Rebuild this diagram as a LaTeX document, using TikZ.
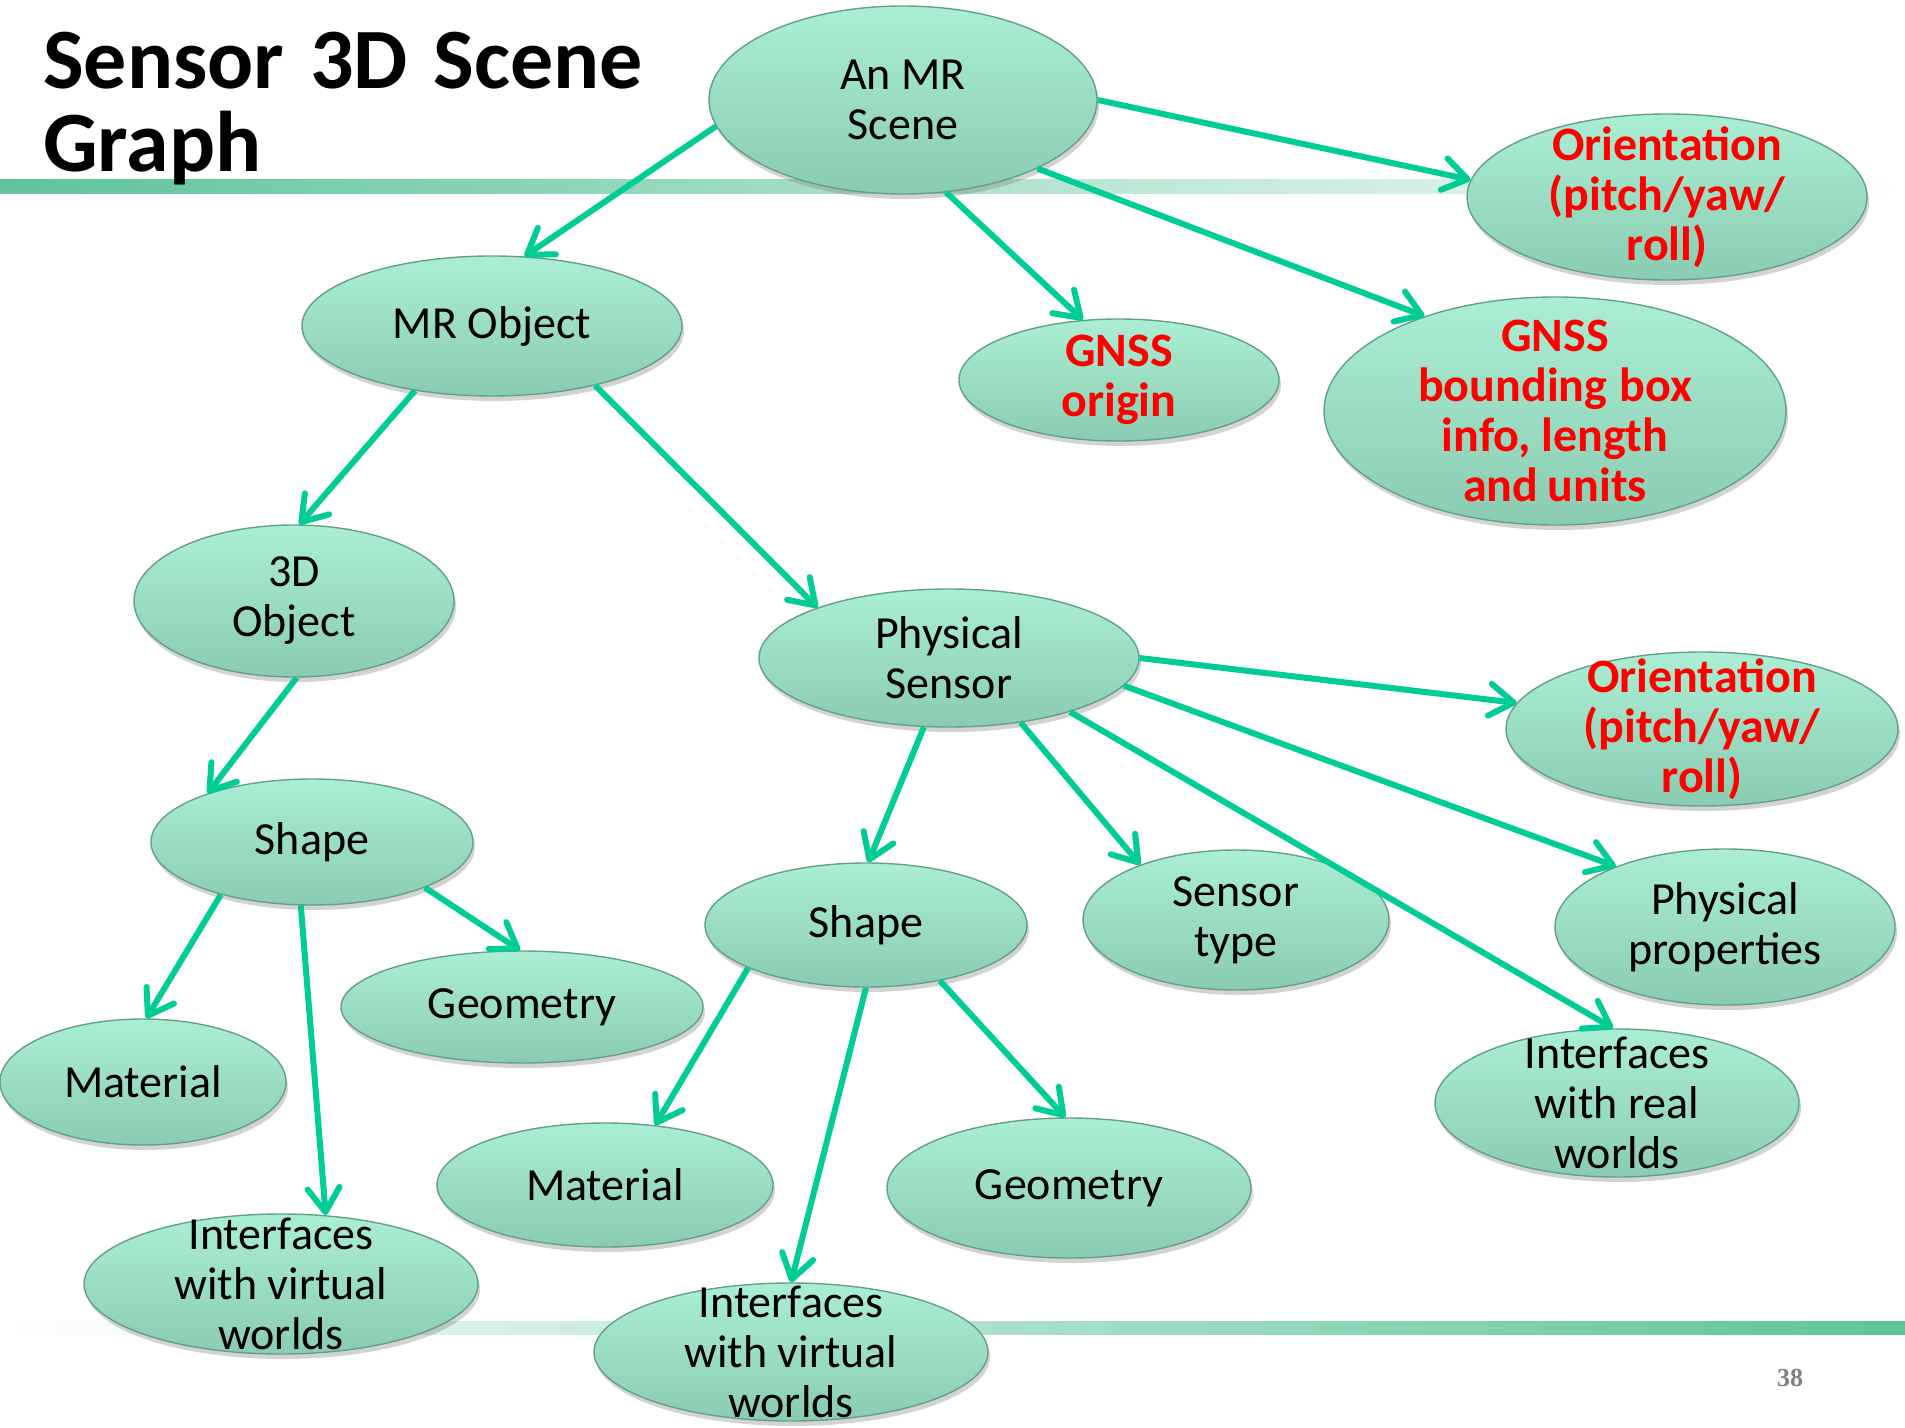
\documentclass[tikz,border=0pt]{standalone}
\usepackage{fontspec}
\setmainfont{Carlito}
\newfontfamily\numfont{Liberation Serif}
\usetikzlibrary{shapes.geometric,arrows.meta,shadows}
\definecolor{mintlt}{RGB}{170,238,212}
\definecolor{mintdk}{RGB}{138,204,178}
\definecolor{mintrim}{RGB}{100,160,136}
\definecolor{arrgreen}{RGB}{0,204,150}
\definecolor{bargreen}{RGB}{94,196,154}
\definecolor{hlred}{RGB}{255,0,0}
\tikzset{
	blob/.style={ellipse, top color=mintlt, bottom color=mintdk, draw=mintrim, line width=0.7pt, inner sep=0pt,
		drop shadow={shadow xshift=1pt, shadow yshift=-2.5pt, opacity=0.35}},
	txt/.style={align=center, font=\fontsize{23}{25}\selectfont},
	redtxt/.style={align=center, font=\fontsize{24}{25}\selectfont\bfseries, text=hlred},
	headline/.style={anchor=base west, font=\fontsize{43}{43}\selectfont\bfseries},
	link/.style={arrgreen, line width=3pt, -{Straight Barb[length=12pt,width=16pt,round]}}
}
\begin{document}
\begin{tikzpicture}[x=0.5pt,y=-0.5pt]
	\useasboundingbox (0,0) rectangle (1905,1428);
	
	\shade[left color=bargreen, right color=white] (0,180) rectangle (1905,194);
	\shade[left color=white, right color=bargreen] (0,1321) rectangle (1905,1334);
	
	\node[headline] (title1) at (36,89) {Sensor\hspace{0.3em}3D\hspace{0.3em}Scene};
	\node[headline] (title2) at (36,172) {Graph};
	\node[font=\numfont\bfseries\fontsize{13}{13}\selectfont, text=gray] (pnum) at (1790,1378) {38};
	
	\node[blob, minimum width=194pt, minimum height=94pt] (scene) at (903,100) {};
	\node[blob, minimum width=200pt, minimum height=83pt] (ori1) at (1667,197) {};
	\node[blob, minimum width=160pt, minimum height=61pt] (gorig) at (1119,380) {};
	\node[blob, minimum width=231pt, minimum height=114pt] (gbox) at (1555,411) {};
	\node[blob, minimum width=190pt, minimum height=70pt] (mrobj) at (492,326) {};
	\node[blob, minimum width=160pt, minimum height=76pt] (obj3d) at (294,601) {};
	\node[blob, minimum width=190pt, minimum height=69pt] (psens) at (949,658) {};
	\node[blob, minimum width=196pt, minimum height=77pt] (ori2) at (1702,729) {};
	\node[blob, minimum width=161pt, minimum height=63pt] (shapeL) at (312,842) {};
	\node[blob, minimum width=181pt, minimum height=56pt] (geomL) at (522,1007) {};
	\node[blob, minimum width=143pt, minimum height=63pt] (matL) at (143,1082) {};
	\node[blob, minimum width=197pt, minimum height=70pt] (ifvL) at (281,1284) {};
	\node[blob, minimum width=161pt, minimum height=62pt] (shapeM) at (866,925) {};
	\node[blob, minimum width=153pt, minimum height=70pt] (stype) at (1236,920) {};
	\node[blob, minimum width=170pt, minimum height=78pt] (pprop) at (1725,927) {};
	\node[blob, minimum width=182pt, minimum height=74pt] (ifr) at (1617,1103) {};
	\node[blob, minimum width=168pt, minimum height=62pt] (matM) at (605,1185) {};
	\node[blob, minimum width=182pt, minimum height=70pt] (geomM) at (1069,1188) {};
	\node[blob, minimum width=197pt, minimum height=69pt] (ifvM) at (791,1352) {};
	
	\node[txt] (sceneT) at (scene) {An MR\\Scene};
	\node[redtxt] (ori1T) at (ori1) {Orientation\\(pitch/yaw/\\roll)};
	\node[redtxt] (gorigT) at (gorig) {GNSS\\origin};
	\node[redtxt] (gboxT) at (gbox) {GNSS\\bounding\hspace{0.25em}box\\info, length\\and\hspace{0.2em}units};
	\node[txt] (mrobjT) at (mrobj) {MR Object};
	\node[txt] (obj3dT) at (obj3d) {3D\\Object};
	\node[txt] (psensT) at (psens) {Physical\\Sensor};
	\node[redtxt] (ori2T) at (ori2) {Orientation\\(pitch/yaw/\\roll)};
	\node[txt] (shapeLT) at (shapeL) {Shape};
	\node[txt] (geomLT) at (geomL) {Geometry};
	\node[txt] (matLT) at (matL) {Material};
	\node[txt] (ifvLT) at (ifvL) {Interfaces\\with virtual\\worlds};
	\node[txt] (shapeMT) at (shapeM) {Shape};
	\node[txt] (stypeT) at (stype) {Sensor\\type};
	\node[txt] (ppropT) at (pprop) {Physical\\properties};
	\node[txt] (ifrT) at (ifr) {Interfaces\\with real\\worlds};
	\node[txt] (matMT) at (matM) {Material};
	\node[txt] (geomMT) at (geomM) {Geometry};
	\node[txt] (ifvMT) at (ifvM) {Interfaces\\with virtual\\worlds};
	
	\draw[link] (scene.188) -- (mrobj.65);
	\draw[link] (scene.0) -- (ori1.175);
	\draw[link] (scene.-65) -- (gorig.121);
	\draw[link] (scene.-27) -- (gbox.144);
	\draw[link] (mrobj.-140) -- (obj3d.86);
	\draw[link] (mrobj.-30) -- (psens.159);
	\draw[link] (obj3d.-88) -- (shapeL.155);
	\draw[link] (shapeL.210) -- (matL.87);
	\draw[link] (shapeL.-22) -- (geomL.92);
	\draw[link] (shapeL.-100) -- (ifvL.57);
	\draw[link] (psens.0) -- (ori2.172);
	\draw[link] (psens.-110) -- (shapeM.88);
	\draw[link] (psens.-42) -- (stype.150);
	\draw[link] (psens.-9) -- (pprop.151);
	\draw[link] (psens.-24) -- (ifr.93);
	\draw[link] (shapeM.200) -- (matM.50);
	\draw[link] (shapeM.-90) -- (ifvM.90);
	\draw[link] (shapeM.-37) -- (geomM.93);
\end{tikzpicture}
\end{document}
